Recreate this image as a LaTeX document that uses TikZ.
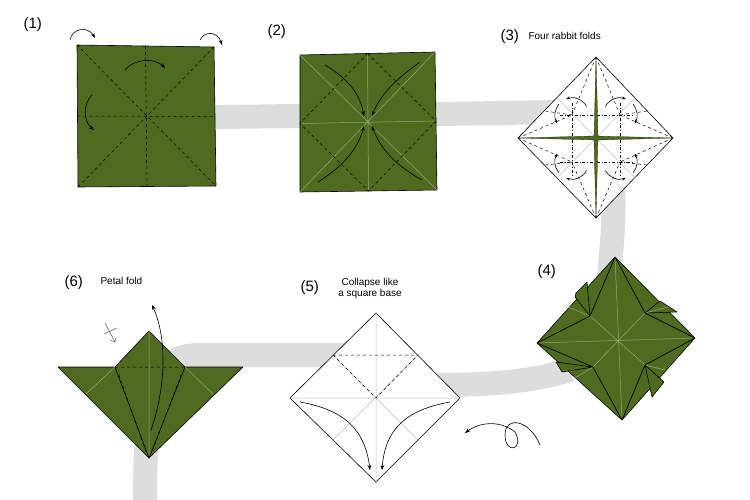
\documentclass[tikz,border=0pt]{standalone}
\usepackage{fontspec}
\setmainfont{Liberation Sans}
\usetikzlibrary{arrows.meta}
\definecolor{paper}{RGB}{79,107,31}
\definecolor{band}{RGB}{221,221,221}
\definecolor{crease}{RGB}{150,170,120}
\begin{document}
\begin{tikzpicture}[x=1pt,y=-1pt,
  sq/.style={fill=paper,draw=black,line width=0.6pt,line join=round},
  wsq/.style={fill=white,draw=black,line width=0.6pt},
  dsh/.style={dashed,line width=0.5pt},
  dd/.style={dash dot,line width=0.5pt},
  lt/.style={draw=crease,line width=0.5pt},
  wl/.style={draw=black!25,line width=0.5pt},
  arr/.style={-{Stealth[length=5pt]},line width=0.6pt},
  sarr/.style={-{Stealth[length=4pt]},line width=0.6pt},
  lab/.style={font=\fontsize{15}{15}\selectfont,anchor=west},
  txt/.style={font=\fontsize{10}{11}\selectfont,align=center}]
\useasboundingbox (0,0) rectangle (750,500);
\fill[white] (0,0) rectangle (750,500);
% band
\draw[band,line width=24pt,line join=round] (150,118) -- (440,114) -- (560,112)
  (610,150) .. controls (620,230) and (605,270) .. (610,300)
  (570,370) .. controls (520,385) and (470,385) .. (420,385)
  (400,355) -- (200,355) .. controls (160,355) and (145,380) .. (145,500);
% step 1
\coordinate (a1) at (77,45);\coordinate (b1) at (214,47);\coordinate (c1) at (216,186);\coordinate (d1) at (78,187);
\draw[sq] (a1)--(b1)--(c1)--(d1)--cycle;
\draw[dsh] (a1)--(c1) (b1)--(d1) (145.5,46)--(147,186.5) (77.5,116)--(215,116.5);
\draw[arr] (70,40) .. controls (72,28) and (88,26) .. (95,38);
\draw[arr] (200,40) .. controls (205,30) and (218,32) .. (222,45);
\draw[arr] (125,70) .. controls (135,58) and (155,58) .. (165,68);
\draw[arr] (92,95) .. controls (82,105) and (84,122) .. (94,130);
% step 2
\coordinate (a2) at (300,55);\coordinate (b2) at (435,52);\coordinate (c2) at (437,190);\coordinate (d2) at (300,192);
\draw[sq] (a2)--(b2)--(c2)--(d2)--cycle;
\draw[lt] (a2)--(c2) (b2)--(d2) (367.5,53.5)--(368.5,191) (300,123.5)--(436,121);
\draw[dsh] (367.5,53.5)--(436,121)--(368.5,191)--(300,123.5)--cycle;
\draw[arr] (325,65) .. controls (350,80) and (360,95) .. (364,116);
\draw[arr] (420,62) .. controls (395,80) and (380,95) .. (372,116);
\draw[arr] (422,180) .. controls (395,165) and (380,148) .. (372,126);
\draw[arr] (318,182) .. controls (345,165) and (358,148) .. (364,126);
% step 3
\coordinate (t3) at (596,57);\coordinate (r3) at (673,138);\coordinate (b3) at (596,218);\coordinate (l3) at (518,138);
\draw[wsq] (t3)--(r3)--(b3)--(l3)--cycle;
\draw[wl] (596,138)--(557,98) (596,138)--(635,98) (596,138)--(557,178) (596,138)--(635,178);
\draw[dd] (560,115)--(632,115) (560,162)--(632,162) (572,103)--(572,175) (620,103)--(620,175);
\draw[dsh] (t3)--(572,115) (t3)--(620,115) (l3)--(572,115) (l3)--(572,162)
  (b3)--(572,162) (b3)--(620,162) (r3)--(620,115) (r3)--(620,162)
  (572,115)--(545,111) (620,115)--(647,111) (572,162)--(545,165) (620,162)--(647,165);
\fill[paper,draw=black!60!paper,line width=0.3pt] (t3) -- (598,136) -- (b3) -- (594,140) -- cycle;
\fill[paper,draw=black!60!paper,line width=0.3pt] (l3) -- (598,140) -- (r3) -- (594,136) -- cycle;
\foreach \cx/\cy/\a/\b/\c/\d in {572/115/30/110/140/210, 620/115/150/70/40/-30, 572/162/-30/-110/-140/-210, 620/162/210/290/320/390}{
  \draw[sarr] (\cx,\cy) ++({cos(\a)*17},{-sin(\a)*17}) arc[start angle=-\a,end angle=-\b,radius=17];
  \draw[sarr] (\cx,\cy) ++({cos(\c)*17},{-sin(\c)*17}) arc[start angle=-\c,end angle=-\d,radius=17];}
% step 4
\coordinate (t4) at (615,257);\coordinate (r4) at (695,338);\coordinate (b4) at (622,420);\coordinate (l4) at (537,343);
\coordinate (p1) at (590,316);\coordinate (p2) at (645,313);\coordinate (p3) at (645,365);\coordinate (p4) at (593,367);
\draw[sq] (t4)--(r4)--(b4)--(l4)--cycle;
\draw[sq] (587,282)--(590,316)--(575,297)--(576,293)--cycle;
\draw[sq] (677,312)--(645,313)--(660,301)--cycle;
\draw[sq] (562,372)--(593,367)--(556,362)--cycle;
\draw[sq] (652,397)--(645,365)--(664,382)--cycle;
\draw[lt] (t4)--(b4) (l4)--(r4) (p1)--(p3) (p2)--(p4) (p1)--(568,307) (p2)--(668,307) (p3)--(665,370) (p4)--(575,378);
\draw[black,line width=0.7pt] (t4)--(p1)--(l4) (t4)--(p2)--(r4) (r4)--(p3)--(b4) (b4)--(p4)--(l4);
% step 5
\coordinate (t5) at (376,313);\coordinate (r5) at (460,398);\coordinate (b5) at (376,482);\coordinate (l5) at (290,398);
\draw[wsq] (t5)--(r5)--(b5)--(l5)--cycle;
\draw[wl] (t5)--(b5) (l5)--(r5) (333,355)--(418,440) (418,355)--(333,440);
\draw[dsh] (333,355)--(418,355) (333,355)--(376,398)--(418,355);
\draw[arr] (300,402) .. controls (345,410) and (365,430) .. (370,470);
\draw[arr] (450,402) .. controls (405,410) and (385,430) .. (382,470);
% arrow under 4
\draw[arr] (540,445) .. controls (530,420) and (505,415) .. (505,435) .. controls (505,455) and (525,450) .. (515,432) .. controls (500,420) and (480,422) .. (465,433);
% step 6
\coordinate (t6) at (149,331);\coordinate (b6) at (149,458);
\coordinate (wl6) at (115,367);\coordinate (wr6) at (185,367);
\draw[sq] (58,367)--(wl6)--(t6)--(wr6)--(243,367)--(b6)--cycle;
\draw[lt] (t6)--(b6) (wl6)--(86,394) (wr6)--(213,394);
\draw[black,line width=0.6pt] (wl6)--(b6)--(wr6);
\draw[dsh] (wl6)--(wr6) (119,375)--(146,452) (181,375)--(152,452);
\draw[arr] (151,430) .. controls (165,390) and (168,340) .. (152,305);
\draw[-{Straight Barb[length=3pt]},line width=0.5pt,black!70] (105,323)--(115,342);
\draw[line width=0.5pt,black!70] (104,334)--(117,328);
% labels
\node[lab] (l1) at (20,25) {(1)};
\node[lab] (l2) at (264,32) {(2)};
\node[lab] (l3) at (497,37) {(3)};
\node[txt,anchor=west] (s3) at (525,36) {Four rabbit folds};
\node[lab] (l4) at (534,272) {(4)};
\node[lab] (l5) at (297,288) {(5)};
\node[txt] (s5) at (370,288) {Collapse like\\a square base};
\node[lab] (l6) at (61,283) {(6)};
\node[txt,anchor=west] (s6) at (97,281) {Petal fold};
\end{tikzpicture}
\end{document}
